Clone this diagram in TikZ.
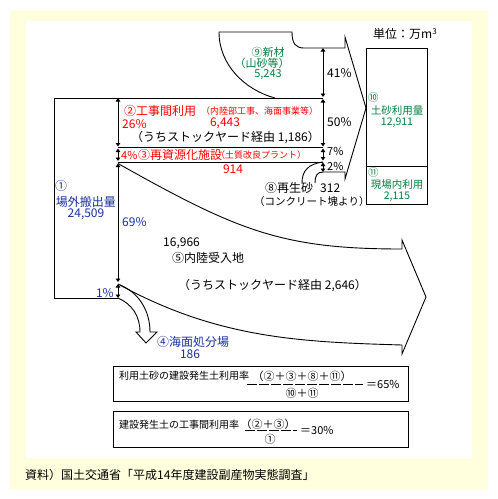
\documentclass[tikz,border=0pt]{standalone}
\usepackage{fontspec}
\newfontfamily\jp{Noto Sans CJK JP}
\usetikzlibrary{arrows.meta}
\definecolor{bgy}{RGB}{255,255,221}
\definecolor{jred}{RGB}{255,0,0}
\definecolor{jgreen}{RGB}{0,128,64}
\definecolor{jblue}{RGB}{24,48,160}
\begin{document}
\begin{tikzpicture}[x=1pt,y=-1pt,
  every node/.style={inner sep=0pt},
  ta/.style={font=\jp\fontsize{12}{12}\selectfont},
  tm/.style={font=\jp\fontsize{11}{11}\selectfont},
  tb/.style={font=\jp\fontsize{10.5}{11}\selectfont},
  tf/.style={font=\jp\fontsize{10}{10}\selectfont},
  tc/.style={font=\jp\fontsize{9}{9}\selectfont},
  ln/.style={line width=0.9pt, black},
  dim/.style={line width=0.9pt, {Triangle[width=4.5pt,length=3.5pt]}-{Triangle[width=4.5pt,length=3.5pt]}},
  red/.style={text=jred}, grn/.style={text=jgreen}, blu/.style={text=jblue}]
\useasboundingbox (0,0) rectangle (498,499);
\fill[bgy] (10,10) rectangle (488,489);
\fill[white] (26,21) rectangle (472,458);

% coordinates
\coordinate (L0) at (118,98);
\coordinate (L1) at (118,147.5);
\coordinate (L2) at (118,162);
\coordinate (L3) at (118,284);
\coordinate (L4) at (118,298);
\coordinate (R0) at (323,48);
\coordinate (R1) at (323,98);
\coordinate (R2) at (323,147.5);
\coordinate (R3) at (323,162);
\coordinate (R4) at (323,172);

% left box
\draw[ln] (L0) -- (54,98) -- (54,298) -- (L4);
% band lines
\draw[ln] (L0) -- (R1);
\draw[ln] (L1) -- (R2);
\draw[ln] (L2) -- (R3);

% dimension arrows left
\draw[dim] (L0) -- (118,146.5);
\draw[dim] (118,148.5) -- (118,161);
\draw[dim] (118,163.5) -- (118,282);
\draw[dim] (L3) -- (L4);
% dimension arrows right
\draw[dim] (R0) -- (323,97);
\draw[dim] (323,99) -- (323,146.5);
\draw[dim] (323,148.5) -- (323,160.5);
\draw[dim] (323,162.5) -- (R4);

% new material (9) and top arrow
\draw[ln] (275,98) .. controls (245,90) and (219,65) .. (219,32) -- (292,32)
  .. controls (292,44) and (296,48) .. (304,48) -- (345,48) -- (345,37) -- (366,108)
  -- (345,179) -- (345,172) -- (R4) .. controls (317,172) and (315,176) .. (315,183);
% recycled sand (8)
\draw[ln] (302,183) .. controls (302,171) and (308,164) .. (R3);

% inland (5) big arrow
\draw[ln] (118,163.5) .. controls (238,231) and (282,249) .. (402,249) -- (402,240) -- (426,297)
  -- (402,354) -- (402,345) .. controls (302,342) and (218,339) .. (L3);

% sea disposal (4)
\draw[ln] (L4) .. controls (132,304) and (140,316) .. (140,332) -- (136,332) -- (146,343)
  -- (157,332) -- (150,332) .. controls (150,310) and (138,292) .. (120,285);

% right box
\draw[ln] (366,48) rectangle (427,204);
\draw[ln] (366,166) -- (427,166);

% texts
\node[ta,anchor=west] at (373,34) {単位：万m\textsuperscript{3}};

\node[tm,grn] at (268,52) {⑨新材};
\node[tm,grn] at (262,63.5) {（山砂等）};
\node[tm,grn] at (268,75) {5,243};

\node[ta,anchor=west] at (327,73) {41\%};
\node[ta,anchor=west] at (327,122) {50\%};
\node[tm,anchor=west] at (327,151.5) {7\%};
\node[tm,anchor=west] at (327,166) {2\%};

\node[ta,red,anchor=west] at (124,111) {②工事間利用};
\node[tc,red,anchor=west] at (201,111) {（内陸部工事、海面事業等）};
\node[ta,red,anchor=west] at (122,124) {26\%};
\node[ta,red] at (225,123) {6,443};
\node[ta,anchor=west] at (131,137) {（うちストックヤード経由 1,186）};
\node[tm,red,anchor=west] at (121,155) {4\%};
\node[ta,red,anchor=west] at (138,155) {③再資源化施設};
\node[tc,red,anchor=west] at (216,155) {（土質改良プラント）};
\node[ta,red] at (233,169) {914};

\node[ta,anchor=west] at (265,188) {⑧再生砂\hspace{7pt}312};
\node[tb,anchor=west] at (254,202) {（コンクリート塊より）};

\node[tb,grn,anchor=west] at (368,98) {⑩};
\node[tb,grn] at (397,111) {土砂利用量};
\node[tb,grn] at (397,123) {12,911};
\node[tb,grn,anchor=west] at (368,173) {⑪};
\node[tb,grn] at (397,185) {現場内利用};
\node[tb,grn] at (397,197) {2,115};

\node[ta,blu,anchor=west] at (55,186) {①};
\node[ta,blu] at (86,202) {場外搬出量};
\node[ta,blu] at (86,214) {24,509};
\node[ta,blu,anchor=west] at (122,222) {69\%};
\node[ta,blu,anchor=east] at (114,293) {1\%};
\node[ta,blu,anchor=west] at (157,342) {④海面処分場};
\node[ta,blu] at (190,354) {186};

\node[ta,anchor=west] at (163,243) {16,966};
\node[ta,anchor=west] at (172,258) {⑤内陸受入地};
\node[ta,anchor=west] at (178,285) {（うちストックヤード経由 2,646）};

% formula boxes
\draw[ln] (113,366) rectangle (408,401);
\draw[ln] (113,411) rectangle (408,447);
\node[tf,anchor=west] at (119,376) {利用土砂の建設発生土利用率};
\node[tm] at (302,376) {（②＋③＋⑧＋⑪）};
\draw[ln,dash pattern=on 10pt off 2pt] (247,384) -- (363,384);
\node[tm] at (302,393) {⑩＋⑪};
\node[tm,anchor=west] at (366,384) {＝65\%};
\node[tf,anchor=west] at (119,425) {建設発生土の工事間利用率};
\node[tm] at (268,424) {（②＋③）};
\draw[ln,dash pattern=on 10pt off 2pt] (245,430) -- (297,430);
\node[tm] at (270,439) {①};
\node[tm,anchor=west] at (300,430) {＝30\%};

\node[ta,anchor=west] at (25,475) {資料）国土交通省「平成14年度建設副産物実態調査」};
\end{tikzpicture}
\end{document}
